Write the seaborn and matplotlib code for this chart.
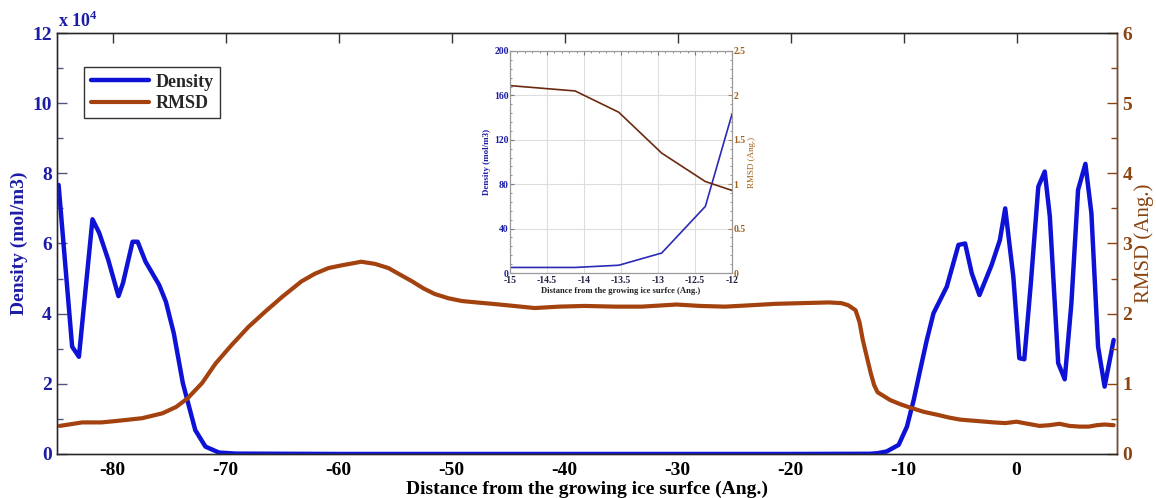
import numpy as np
import pandas as pd
import matplotlib
matplotlib.use("Agg")
import matplotlib.pyplot as plt
import seaborn as sns
from matplotlib.ticker import MultipleLocator, FuncFormatter

sns.set_style("white")
plt.rcParams['font.family'] = ['Liberation Serif', 'DejaVu Serif']
plt.rcParams['font.weight'] = 'bold'
plt.rcParams['mathtext.fontset'] = 'custom'
plt.rcParams['mathtext.rm'] = 'Liberation Serif:bold'
plt.rcParams['mathtext.bf'] = 'Liberation Serif:bold'

# ---------------- data (main) ----------------
dens_x = [-84.8, -83.6, -83.0, -81.8, -81.2, -80.4, -79.5, -79.1, -78.25, -77.8, -77.1,
          -75.9, -75.3, -74.6, -73.8, -73.25, -72.7, -71.8, -70.6, -69.1, -60.0, -50.0,
          -40.0, -30.0, -20.0, -13.0, -12.35, -11.5, -10.43, -9.7, -9.1, -8.53, -7.94,
          -7.35, -6.76, -6.17, -5.14, -4.55, -3.96, -3.28, -2.2, -1.47, -1.0, -0.28,
          0.25, 0.69, 1.27, 1.93, 2.5, 2.95, 3.69, 4.27, 4.86, 5.45, 6.1, 6.63, 7.22,
          7.8, 8.6]
dens_y = [7.67, 3.06, 2.77, 6.69, 6.30, 5.53, 4.50, 4.87, 6.05, 6.05, 5.48,
          4.82, 4.34, 3.44, 2.02, 1.35, 0.68, 0.21, 0.04, 0.01, 0.0, 0.0,
          0.0, 0.0, 0.0, 0.005, 0.02, 0.07, 0.26, 0.78, 1.54, 2.39, 3.25,
          4.01, 4.39, 4.77, 5.96, 6.00, 5.15, 4.53, 5.39, 6.10, 7.00, 5.05,
          2.73, 2.70, 4.87, 7.62, 8.05, 6.77, 2.59, 2.13, 4.30, 7.53, 8.27, 6.86, 3.06,
          1.92, 3.25]

rmsd_x = [-84.7, -83.5, -82.7, -81.0, -79.7, -77.4, -75.6, -74.4, -73.4, -72.1, -70.9,
          -69.5, -68.0, -66.5, -65.0, -63.3, -62.1, -60.9, -59.7, -58.0, -56.8, -55.6,
          -54.5, -53.5, -52.5, -51.5, -50.3, -49.1, -47.8, -46.4, -44.5, -42.65, -40.5,
          -38.25, -35.5, -33.2, -30.1, -28.0, -25.8, -23.5, -21.35, -19.0, -16.6,
          -15.5, -14.9, -14.25, -13.9, -13.6, -13.2, -12.9, -12.6, -12.3, -11.2,
          -10.3, -9.4, -8.2, -7.05, -6.0, -5.0, -3.5, -2.0, -1.0, 0.0, 1.0, 2.05,
          2.9, 3.8, 4.7, 5.6, 6.4, 7.1, 7.8, 8.6]
rmsd_y = [0.40, 0.43, 0.45, 0.45, 0.47, 0.51, 0.58, 0.67, 0.79, 1.01, 1.29,
          1.55, 1.81, 2.03, 2.24, 2.46, 2.57, 2.65, 2.69, 2.74, 2.71, 2.65,
          2.55, 2.46, 2.36, 2.28, 2.22, 2.18, 2.16, 2.14, 2.11, 2.08, 2.10,
          2.11, 2.10, 2.10, 2.13, 2.11, 2.10, 2.12, 2.14, 2.15, 2.16,
          2.15, 2.12, 2.05, 1.88, 1.62, 1.35, 1.15, 0.98, 0.88, 0.77,
          0.71, 0.66, 0.60, 0.56, 0.52, 0.49, 0.47, 0.45, 0.44, 0.46, 0.43, 0.40,
          0.41, 0.43, 0.40, 0.39, 0.39, 0.41, 0.42, 0.41]

# ---------------- data (inset) ----------------
in_dens_x = [-15.0, -14.12, -13.53, -12.95, -12.36, -12.0]
in_dens_y = [5, 5, 7, 18, 60, 143]
in_rmsd_x = [-15.0, -14.12, -13.53, -12.95, -12.36, -12.0]
in_rmsd_y = [2.11, 2.05, 1.81, 1.35, 1.03, 0.93]

BLUE = "#0d12d6"
BROWN = "#a3420f"
BLUE_TXT = "#1c1ca6"
BROWN_TXT = "#8b4513"

fig = plt.figure(figsize=(11.56, 4.98), dpi=100)
ax = fig.add_axes([0.0497, 0.0884, 0.9166, 0.8453])
ax2 = ax.twinx()

df_d = pd.DataFrame({"x": dens_x, "y": dens_y})
df_r = pd.DataFrame({"x": rmsd_x, "y": rmsd_y})
sns.lineplot(data=df_d, x="x", y="y", ax=ax, color=BLUE, lw=3.2, label="Density", legend=False)
sns.lineplot(data=df_r, x="x", y="y", ax=ax2, color=BROWN, lw=3.0, label="RMSD", legend=False)

ax.set_xlim(-84.9, 8.9)
ax.set_ylim(0, 12)
ax2.set_ylim(0, 6)
ax.xaxis.set_major_locator(MultipleLocator(10))
ax.xaxis.set_minor_locator(MultipleLocator(2))
ax.yaxis.set_major_locator(MultipleLocator(2))
ax.yaxis.set_minor_locator(MultipleLocator(1))
ax2.yaxis.set_major_locator(MultipleLocator(1))
ax2.yaxis.set_minor_locator(MultipleLocator(0.5))
ax.yaxis.set_major_formatter(FuncFormatter(lambda v, p: f"{v:g}"))
ax.xaxis.set_major_formatter(FuncFormatter(lambda v, p: f"{v:g}"))

ax.tick_params(axis="x", which="major", direction="in", length=7, width=1, colors="#333333",
               labelsize=14, labelcolor="black", top=True, pad=6)
ax.tick_params(axis="x", which="minor", direction="in", length=4, width=1, colors="#333333", top=False)
ax.tick_params(axis="y", which="major", direction="in", length=7, width=1, colors="#555577",
               labelsize=14, labelcolor=BLUE_TXT, pad=4)
ax.tick_params(axis="y", which="minor", direction="in", length=4, width=1, colors="#555577")
ax2.tick_params(axis="y", which="major", direction="in", length=7, width=1, colors=BROWN_TXT,
                labelsize=14, labelcolor=BROWN_TXT, pad=4)
ax2.tick_params(axis="y", which="minor", direction="in", length=4, width=1, colors=BROWN_TXT)
for lab in ax.get_xticklabels() + ax.get_yticklabels() + ax2.get_yticklabels():
    lab.set_fontweight("bold")

for sp in ["top", "bottom"]:
    ax.spines[sp].set_color("#555555")
ax.spines["left"].set_color("#555577")
ax2.spines["right"].set_color(BROWN_TXT)
for a in (ax, ax2):
    for sp in a.spines.values():
        sp.set_linewidth(1.0)

ax.set_xlabel("Distance from the growing ice surfce (Ang.)", fontsize=14, fontweight="bold",
              color="black", labelpad=1)
ax.set_ylabel("Density (mol/m3)", fontsize=14, fontweight="bold", color=BLUE_TXT, labelpad=3)
ax2.set_ylabel("RMSD (Ang.)", fontsize=15, fontweight="normal", color=BROWN_TXT, labelpad=1)

fig.text(0.050, 0.946, r"x 10$^{4}$", fontsize=13, fontweight="bold", color=BLUE_TXT,
         ha="left", va="baseline")

h1, l1 = ax.get_legend_handles_labels()
h2, l2 = ax2.get_legend_handles_labels()
leg = ax.legend(h1 + h2, l1 + l2, loc="upper left", bbox_to_anchor=(0.017, 0.94),
                fontsize=13, frameon=True, fancybox=False, handlelength=3.2,
                borderpad=0.35, labelspacing=0.25, handletextpad=0.4)
leg.get_frame().set_edgecolor("black")
leg.get_frame().set_linewidth(1.0)
for t in leg.get_texts():
    t.set_fontweight("bold")

# ---------------- inset ----------------
ia = fig.add_axes([0.4412, 0.4518, 0.1920, 0.4458])
ib = ia.twinx()
df_id = pd.DataFrame({"x": in_dens_x, "y": in_dens_y})
df_ir = pd.DataFrame({"x": in_rmsd_x, "y": in_rmsd_y})
sns.lineplot(data=df_id, x="x", y="y", ax=ia, color="#2a2ab5", lw=1.2, legend=False)
sns.lineplot(data=df_ir, x="x", y="y", ax=ib, color="#6b2a10", lw=1.2, legend=False)
ia.set_xlim(-15, -12)
ia.set_ylim(0, 200)
ib.set_ylim(0, 2.5)
ia.xaxis.set_major_locator(MultipleLocator(0.5))
ia.xaxis.set_minor_locator(MultipleLocator(0.1))
ia.yaxis.set_major_locator(MultipleLocator(40))
ia.yaxis.set_minor_locator(MultipleLocator(8))
ib.yaxis.set_major_locator(MultipleLocator(0.5))
ib.yaxis.set_minor_locator(MultipleLocator(0.1))
ia.xaxis.set_major_formatter(FuncFormatter(lambda v, p: f"{v:g}"))
ib.yaxis.set_major_formatter(FuncFormatter(lambda v, p: f"{v:g}"))
ia.grid(True, which="major", color="#dddddd", lw=0.8)
ia.tick_params(axis="x", which="both", direction="in", labelsize=7, pad=2.5, colors="#777777",
               labelcolor="#222244", top=True)
ia.tick_params(axis="x", which="major", length=3)
ia.tick_params(axis="x", which="minor", length=1.5)
ia.tick_params(axis="y", which="both", direction="in", labelsize=7, pad=1, colors="#777799",
               labelcolor=BLUE_TXT)
ia.tick_params(axis="y", which="major", length=3)
ia.tick_params(axis="y", which="minor", length=1.5)
ib.tick_params(axis="y", which="both", direction="in", labelsize=7, pad=1, colors="#b08050",
               labelcolor="#a0601a")
ib.tick_params(axis="y", which="major", length=3)
ib.tick_params(axis="y", which="minor", length=1.5)
for lab in ia.get_xticklabels() + ia.get_yticklabels() + ib.get_yticklabels():
    lab.set_fontweight("bold")
ia.set_xlabel("Distance from the growing ice surfce (Ang.)", fontsize=6.2, fontweight="bold",
              color="#222222", labelpad=1)
ia.set_ylabel("Density (mol/m3)", fontsize=6.5, fontweight="bold", color=BLUE_TXT, labelpad=2)
ib.set_ylabel("RMSD (Ang.)", fontsize=6.5, fontweight="normal", color="#a0601a", labelpad=2)
for a in (ia, ib):
    for sp in a.spines.values():
        sp.set_color("#999999")
        sp.set_linewidth(0.8)

fig.savefig("out.png", dpi=100)
